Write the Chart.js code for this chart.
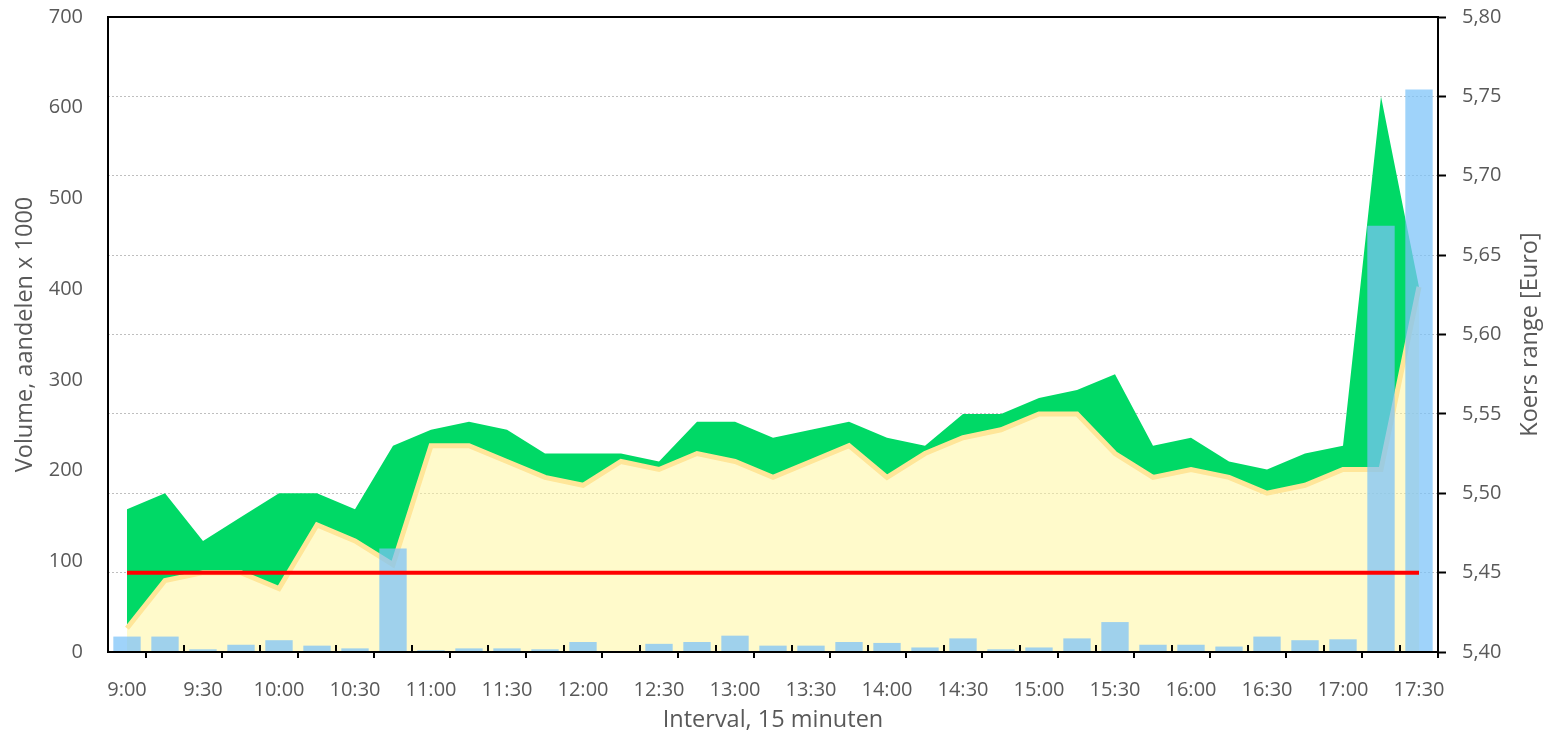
<!DOCTYPE html>
<html>
<head>
<meta charset="utf-8">
<script src="https://cdn.jsdelivr.net/npm/chart.js@4.4.1/dist/chart.umd.min.js"></script>
<style>
  html, body { margin: 0; padding: 0; background: #fff; }
</style>
</head>
<body>
<canvas id="chart" width="1548" height="738"></canvas>
<script>
// 15-minute intervals
const times = ['9:00','9:15','9:30','9:45','10:00','10:15','10:30','10:45','11:00','11:15','11:30','11:45',
  '12:00','12:15','12:30','12:45','13:00','13:15','13:30','13:45','14:00','14:15','14:30','14:45',
  '15:00','15:15','15:30','15:45','16:00','16:15','16:30','16:45','17:00','17:15','17:30'];

// volume, shares x 1000 (left axis)
const volume = [17,17,3,8,13,7,4,114,2,4,4,3,11,0,9,11,18,7,7,11,10,5,15,3,5,15,33,8,8,6,17,13,14,470,620];

// price range in euro (right axis)
const high = [5.49,5.50,5.47,5.485,5.50,5.50,5.49,5.53,5.54,5.545,5.54,5.525,5.525,5.525,5.52,5.545,5.545,5.535,
  5.54,5.545,5.535,5.53,5.55,5.55,5.56,5.565,5.575,5.53,5.535,5.52,5.515,5.525,5.53,5.75,5.63];
const low = [5.415,5.445,5.45,5.45,5.44,5.48,5.47,5.455,5.53,5.53,5.52,5.51,5.505,5.52,5.515,5.525,5.52,5.51,
  5.52,5.53,5.51,5.525,5.535,5.54,5.55,5.55,5.525,5.51,5.515,5.51,5.50,5.505,5.515,5.515,5.63];
const reference = [5.45,5.45,5.45,5.45,5.45,5.45,5.45,5.45,5.45,5.45,5.45,5.45,5.45,5.45,5.45,5.45,5.45,5.45,
  5.45,5.45,5.45,5.45,5.45,5.45,5.45,5.45,5.45,5.45,5.45,5.45,5.45,5.45,5.45,5.45,5.45];

const textColor = '#595959';
const tickFont = { family: 'Open Sans', size: 20 };
const titleFont = { family: 'Open Sans', size: 23.5 };

// frame top line + alternating x tick marks
const frameTicks = {
  id: 'frameTicks',
  afterDraw(chart) {
    const { ctx, chartArea: { left, right, top, bottom } } = chart;
    const n = times.length;
    const w = (right - left) / n;
    ctx.save();
    ctx.strokeStyle = '#000';
    ctx.lineWidth = 2;
    ctx.beginPath();
    ctx.moveTo(left - 1, top);
    ctx.lineTo(right + 1, top);
    ctx.moveTo(left - 1, bottom);
    ctx.lineTo(right + 1, bottom);
    for (let k = 1; k <= n; k++) {
      const x = left + k * w;
      ctx.moveTo(x, bottom);
      ctx.lineTo(x, k % 2 ? bottom + 6 : bottom - 7);
    }
    ctx.stroke();
    ctx.restore();
  }
};

// right axis title reads bottom to top
const rightTitle = {
  id: 'rightTitle',
  afterDraw(chart) {
    const { ctx, chartArea } = chart;
    ctx.save();
    ctx.translate(chart.width - 18, (chartArea.top + chartArea.bottom) / 2);
    ctx.rotate(-Math.PI / 2);
    ctx.font = titleFont.size + 'px "Open Sans"';
    ctx.fillStyle = textColor;
    ctx.textAlign = 'center';
    ctx.textBaseline = 'middle';
    ctx.fillText('Koers range [Euro]', 0, 0);
    ctx.restore();
  }
};

new Chart(document.getElementById('chart'), {
  data: {
    labels: times,
    datasets: [
      { type: 'line', label: 'Referentie', data: reference, yAxisID: 'yR', borderColor: '#FF0000',
        borderWidth: 4, pointRadius: 0, fill: false, order: 0 },
      { type: 'bar', label: 'Volume', data: volume, yAxisID: 'y', backgroundColor: 'rgba(123,195,248,0.73)',
        barPercentage: 0.72, categoryPercentage: 1, order: 1 },
      { type: 'line', label: 'Hoog', data: high, yAxisID: 'yR', borderColor: 'rgba(0,0,0,0)', borderWidth: 0,
        backgroundColor: '#00D966', fill: '+1', pointRadius: 0, order: 3 },
      { type: 'line', label: 'Laag', data: low, yAxisID: 'yR', borderColor: '#FFE699', borderWidth: 5,
        backgroundColor: 'rgba(255,245,160,0.55)', fill: 'start', pointRadius: 0, order: 2 }
    ]
  },
  options: {
    responsive: false,
    animation: false,
    layout: { padding: { top: 17, left: 0, right: 0, bottom: 0 } },
    plugins: { legend: { display: false }, tooltip: { enabled: false } },
    scales: {
      x: {
        offset: true,
        grid: { display: false, drawTicks: false },
        border: { display: true, color: '#000', width: 2 },
        ticks: {
          autoSkip: false, maxRotation: 0, padding: 26, color: textColor, font: tickFont,
          callback: (v, i) => (i % 2 === 0 ? times[i] : '')
        },
        title: { display: true, text: 'Interval, 15 minuten', color: textColor, font: titleFont,
          padding: { top: 0, bottom: 4 } },
        afterFit: s => { s.height = 86; s.paddingLeft = 0; s.paddingRight = 0; }
      },
      y: {
        position: 'left', min: 0, max: 700,
        ticks: { stepSize: 100, padding: 25, color: textColor, font: tickFont },
        grid: { drawOnChartArea: false, drawTicks: false },
        border: { color: '#000', width: 2 },
        title: { display: true, text: 'Volume, aandelen x 1000', color: textColor, font: titleFont,
          padding: { top: 11, bottom: 0 } },
        afterFit: s => { s.width = 108; s.paddingTop = 0; s.paddingBottom = 0; }
      },
      yR: {
        position: 'right', min: 5.4, max: 5.8,
        ticks: { stepSize: 0.05, padding: 16, color: textColor, font: tickFont,
          callback: v => v.toFixed(2).replace('.', ',') },
        grid: {
          color: c => (c.index === 0 || c.index === 8 ? 'rgba(0,0,0,0)' : '#BFBFBF'),
          lineWidth: 1, tickColor: '#000', tickWidth: 2, tickLength: 8, tickBorderDash: []
        },
        border: { color: '#000', width: 2, dash: [2, 2] },
        afterFit: s => { s.width = 110; s.paddingTop = 0; s.paddingBottom = 0; }
      }
    }
  },
  plugins: [frameTicks, rightTitle]
});
</script>
</body>
</html>
